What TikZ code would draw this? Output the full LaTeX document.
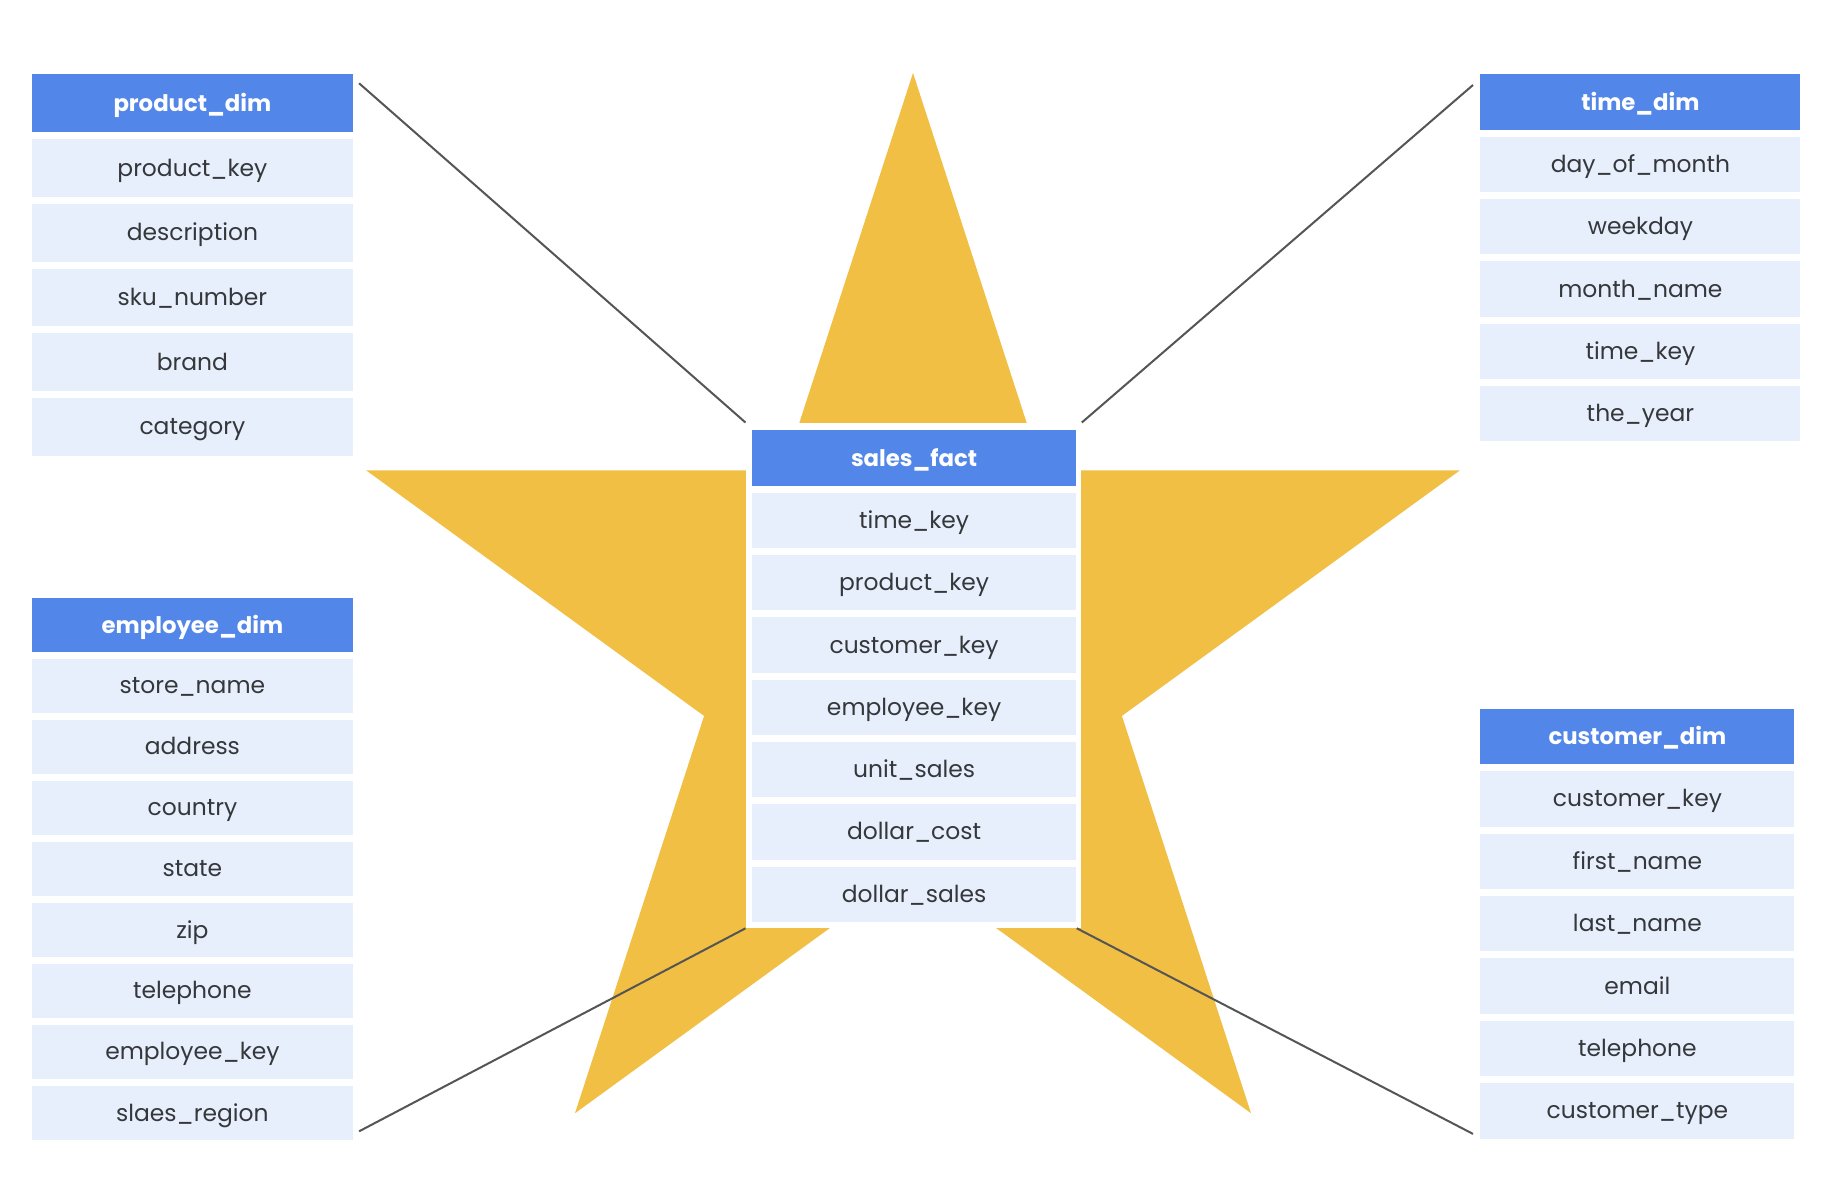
\documentclass[tikz,border=0pt]{standalone}
\usepackage{fontspec}
\setmainfont{Poppins}
\usepackage{tikz}
\usetikzlibrary{calc}
\definecolor{hdrblue}{HTML}{5286E8}
\definecolor{rowblue}{HTML}{E8EFFC}
\definecolor{staryellow}{HTML}{F0BF43}
\definecolor{ink}{HTML}{35383B}
\definecolor{wire}{HTML}{555555}
\newcommand{\dimtable}[7]{\node[hdr,minimum width=#4*0.5pt,minimum height=(#5-7)*0.5pt] (#1) at (#2,#3) {#6};
\foreach \fld [count=\k] in {#7} \node[fld,minimum width=#4*0.5pt,minimum height=(#5-7)*0.5pt] (#1-\k) at (#2,#3+\k*#5) {\fld};}

\begin{document}
\begin{tikzpicture}[x=0.5pt,y=-0.5pt,
  hdr/.style={anchor=north west,fill=hdrblue,text=white,inner sep=0pt,text depth=0.6pt,font=\fontsize{11.4}{14}\selectfont\bfseries},
  fld/.style={anchor=north west,fill=rowblue,text=ink,inner sep=0pt,text depth=0.6pt,font=\fontsize{11.7}{14}\selectfont},
  link/.style={wire,line width=1pt}]
\fill[white] (0,0) rectangle (1840,1184);\useasboundingbox (0,0) rectangle (1840,1184);
\fill[staryellow] (913,73)--(783.9,470.3)--(366.1,470.3)--(704.1,715.9)--(575,1113.2)--(913,867.6)--(1251,1113.2)--(1121.9,715.9)--(1459.9,470.3)--(1042.1,470.3)--cycle;
\node[fill=white,inner sep=0pt,anchor=north west,minimum width=335.5*0.5pt,minimum height=505*0.5pt] (factbox) at (745.5,422.5) {};
\dimtable{fact}{751.7}{430}{324}{62.3}{sales\_fact}{time\_key,product\_key,customer\_key,employee\_key,unit\_sales,dollar\_cost,dollar\_sales}
\dimtable{product}{31.7}{74}{320.6}{64.7}{product\_dim}{product\_key,description,sku\_number,brand,category}
\dimtable{timed}{1480}{74}{320}{62.3}{time\_dim}{day\_of\_month,weekday,month\_name,time\_key,the\_year}
\dimtable{employee}{31.7}{597.5}{320.6}{61}{employee\_dim}{store\_name,address,country,state,zip,telephone,employee\_key,slaes\_region}
\dimtable{customer}{1480}{708.3}{314}{62.4}{customer\_dim}{customer\_key,first\_name,last\_name,email,telephone,customer\_type}
\coordinate (pend) at ($(product.north east)+(6,9.3)$);\coordinate (tend) at ($(timed.north west)+(-7,11)$);
\coordinate (eend) at ($(employee-8.south east)+(6,-9)$);\coordinate (cend) at ($(customer-6.south west)+(-7,-5)$);
\draw[link] (pend)--(factbox.north west);\draw[link] (tend)--(factbox.north east);
\draw[link] (eend)--(factbox.south west);\draw[link] (cend)--($(factbox.south east)+(-5,0)$);
\end{tikzpicture}
\end{document}
